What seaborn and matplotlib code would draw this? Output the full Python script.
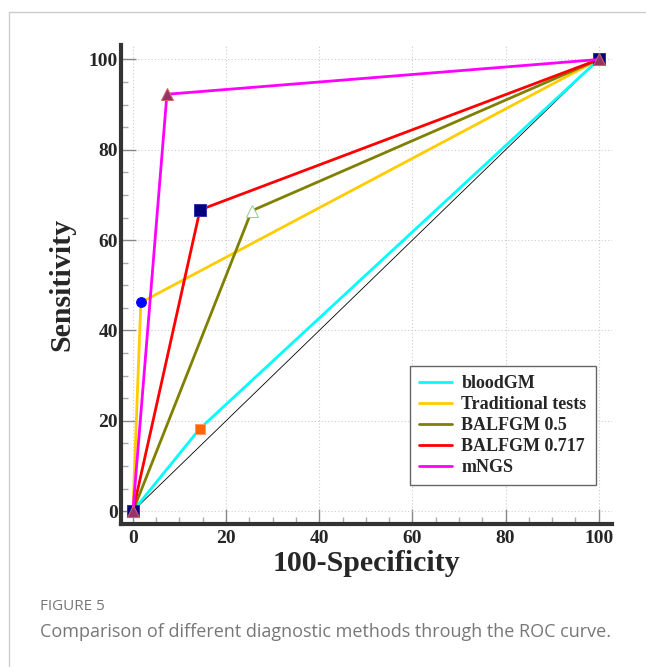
import numpy as np
import pandas as pd
import matplotlib
matplotlib.use("Agg")
import matplotlib.pyplot as plt
import seaborn as sns
from matplotlib.ticker import MultipleLocator

# ROC points (100-specificity, sensitivity)
methods = ["bloodGM", "Traditional tests", "BALFGM 0.5", "BALFGM 0.717", "mNGS"]
fpr_bloodgm = [0, 14.3, 100]
tpr_bloodgm = [0, 18.2, 100]
fpr_trad = [0, 1.7, 100]
tpr_trad = [0, 46.2, 100]
fpr_balf05 = [0, 25.5, 100]
tpr_balf05 = [0, 66.5, 100]
fpr_balf0717 = [0, 14.4, 100]
tpr_balf0717 = [0, 66.7, 100]
fpr_mngs = [0, 7.3, 100]
tpr_mngs = [0, 92.3, 100]
ref_line = [0, 100]
ticks = [0, 20, 40, 60, 80, 100]

line_colors = ["#00FFFF", "#FFCC00", "#808000", "#FF0000", "#FF00FF"]
marker_style = [
    dict(marker="s", markersize=7, markerfacecolor="#FF6600", markeredgecolor="#FF9966"),
    dict(marker="o", markersize=7, markerfacecolor="#0000FF", markeredgecolor="#0000FF"),
    dict(marker="^", markersize=9, markerfacecolor="white", markeredgecolor="#99CC99"),
    dict(marker="s", markersize=8, markerfacecolor="#000080", markeredgecolor="#3333AA"),
    dict(marker="^", markersize=9, markerfacecolor="#993366", markeredgecolor="#CC6666"),
]

sns.set_style("ticks")
plt.rcParams["font.family"] = ["Liberation Serif", "DejaVu Serif"]

fig = plt.figure(figsize=(6.46, 6.67), dpi=100)
ax = fig.add_axes([0.187, 0.214, 0.76, 0.7185])

# panel frame lines
fig.add_artist(plt.Line2D([9 / 646, 1], [1 - 12 / 667, 1 - 12 / 667], color="#cccccc", lw=1))
fig.add_artist(plt.Line2D([9 / 646, 9 / 646], [0, 1 - 12 / 667], color="#cccccc", lw=1))

# diagonal reference
sns.lineplot(x=ref_line, y=ref_line, color="black", lw=0.6, ax=ax, sort=False)

series = [
    (fpr_bloodgm, tpr_bloodgm),
    (fpr_trad, tpr_trad),
    (fpr_balf05, tpr_balf05),
    (fpr_balf0717, tpr_balf0717),
    (fpr_mngs, tpr_mngs),
]
for (xs, ys), name, col, ms in zip(series, methods, line_colors, marker_style):
    df = pd.DataFrame({"fpr": xs, "tpr": ys})
    sns.lineplot(data=df, x="fpr", y="tpr", color=col, lw=2, sort=False, ax=ax, label=name, **ms)

ax.set_xlim(-2.6, 102.8)
ax.set_ylim(-2.9, 103.2)
ax.set_xticks(ticks)
ax.set_yticks(ticks)
ax.xaxis.set_minor_locator(MultipleLocator(5))
ax.yaxis.set_minor_locator(MultipleLocator(5))
ax.grid(True, which="major", linestyle=(0, (1, 2)), color="#cccccc", lw=0.8)
ax.tick_params(which="major", direction="in", length=11, width=1, color="#888888", labelsize=14, pad=4)
ax.tick_params(axis="y", which="major", pad=2)
ax.tick_params(which="minor", direction="in", length=5, width=1, color="#aaaaaa")
for lab in ax.get_xticklabels() + ax.get_yticklabels():
    lab.set_fontweight("bold")

sns.despine(ax=ax)
for s in ["left", "bottom"]:
    ax.spines[s].set_linewidth(3)
    ax.spines[s].set_color("#333333")

ax.set_xlabel("100-Specificity", fontsize=21.5, fontweight="bold", labelpad=2)
ax.set_ylabel("Sensitivity", fontsize=21.5, fontweight="bold", labelpad=10)

leg_handles = [plt.Line2D([], [], color=c, lw=2) for c in line_colors]
leg = ax.legend(leg_handles, methods, loc="upper left", bbox_to_anchor=(0.589, 0.33),
                prop={"family": "Liberation Serif", "weight": "bold", "size": 13},
                frameon=True, fancybox=False, edgecolor="#666666", framealpha=1,
                handlelength=1.8, handletextpad=0.55, borderpad=0.5, labelspacing=0.22,
                borderaxespad=0)
leg.get_frame().set_linewidth(1)

fig.text(40 / 646, 1 - 607 / 667, "FIGURE 5", fontsize=11, color="#777777",
         family=["Open Sans", "DejaVu Sans"], va="center")
fig.text(40 / 646, 1 - 632 / 667, "Comparison of different diagnostic methods through the ROC curve.",
         fontsize=13, color="#777777", family=["Open Sans", "DejaVu Sans"], va="center")

fig.savefig("out.png", dpi=100)
